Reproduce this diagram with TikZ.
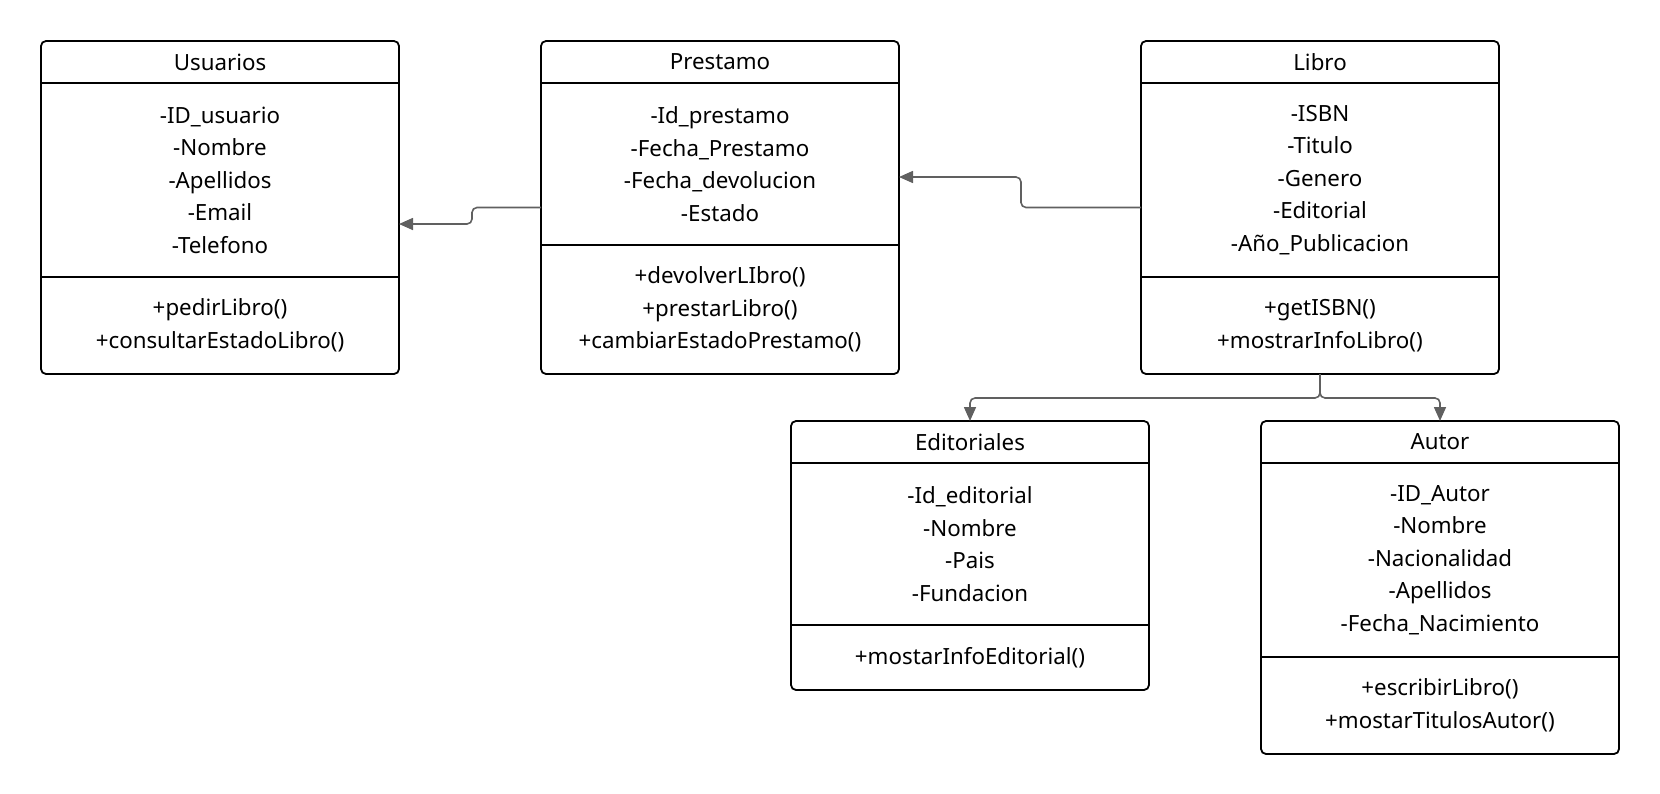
\documentclass[tikz,border=0pt]{standalone}
\usepackage{fontspec}
\setmainfont{Noto Sans}
\usepackage{tikz}
\usetikzlibrary{arrows.meta,positioning,calc}
\definecolor{linkgray}{HTML}{606060}
\tikzset{
	classbox/.style={draw,line width=1.8pt,rounded corners=5pt,minimum width=358pt,
		inner sep=0pt,outer sep=0pt,anchor=north west},
	classtext/.style={inner sep=0pt,align=center,font=\fontsize{22.3}{32.5}\selectfont},
	classline/.style={line width=1.8pt},
	relation/.style={draw=linkgray,line width=1.6pt,rounded corners=5pt,
		-{Triangle[length=14pt,width=12pt]}}
}
% #1 name, #2 left, #3 top, #4 title, #5 attributes, #6 no. of attributes,
% #7 methods, #8 no. of methods
\newcommand{\umlclass}[8]{%
	\pgfmathsetmacro\hattr{32*#6+34}
	\pgfmathsetmacro\hmeth{32*#8+33}
	\node[classbox,minimum height={42pt+\hattr pt+\hmeth pt}] (#1) at (#2,#3) {};
	\node[classtext] (#1-title) at ($(#1.north)+(0,21)$) {#4};
	\draw[classline] ($(#1.north west)+(0,42)$) -- ($(#1.north east)+(0,42)$);
	\node[classtext] (#1-attr) at ($(#1.north)+(0,42+\hattr/2)$) {#5};
	\draw[classline] ($(#1.north west)+(0,42+\hattr)$) -- ($(#1.north east)+(0,42+\hattr)$);
	\node[classtext] (#1-meth) at ($(#1.south)+(0,-\hmeth/2)$) {#7};
}

\begin{document}
\begin{tikzpicture}[x=1pt,y=-1pt]
	\useasboundingbox (0,0) rectangle (1660,793);
	\umlclass{usuarios}{41}{41}{Usuarios}
		{-ID\_usuario\\-Nombre\\-Apellidos\\-Email\\-Telefono}{5}
		{+pedirLibro()\\+consultarEstadoLibro()}{2}
	\umlclass{prestamo}{541}{41}{Prestamo}
		{-Id\_prestamo\\-Fecha\_Prestamo\\-Fecha\_devolucion\\-Estado}{4}
		{+devolverLIbro()\\+prestarLibro()\\+cambiarEstadoPrestamo()}{3}
	\umlclass{libro}{1141}{41}{Libro}
		{-ISBN\\-Titulo\\-Genero\\-Editorial\\-Año\_Publicacion}{5}
		{+getISBN()\\+mostrarInfoLibro()}{2}
	\umlclass{editoriales}{791}{421}{Editoriales}
		{-Id\_editorial\\-Nombre\\-Pais\\-Fundacion}{4}
		{+mostarInfoEditorial()}{1}
	\umlclass{autor}{1261}{421}{Autor}
		{-ID\_Autor\\-Nombre\\-Nacionalidad\\-Apellidos\\-Fecha\_Nacimiento}{5}
		{+escribirLibro()\\+mostarTitulosAutor()}{2}
	% relations
	\draw[relation] (prestamo.west) -- ++(-69,0) |- ([yshift=-16.5pt]usuarios.east);
	\draw[relation] (libro.west) -- ++(-120,0) |- ([yshift=30.5pt]prestamo.east);
	\draw[relation] (libro.south) -- ++(0,24) -| (editoriales.north);
	\draw[relation] (libro.south) -- ++(0,24) -| (autor.north);
\end{tikzpicture}
\end{document}
